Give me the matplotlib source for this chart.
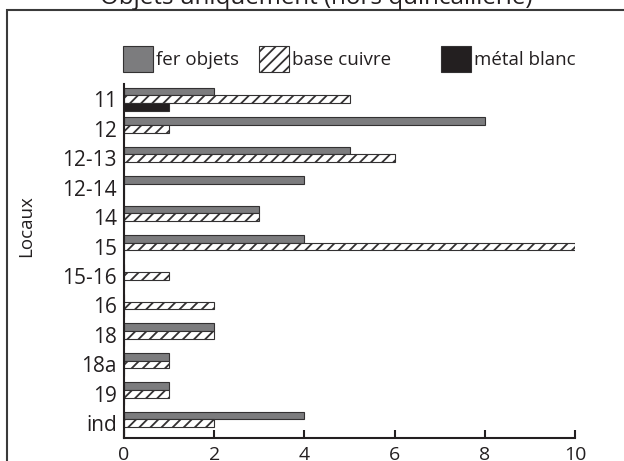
import matplotlib
matplotlib.use('Agg')
import matplotlib.pyplot as plt
import numpy as np
from matplotlib.patches import Rectangle

plt.rcParams['font.family'] = ['Open Sans', 'DejaVu Sans']
plt.rcParams['hatch.linewidth'] = 1.3
plt.rcParams['hatch.color'] = '#231f20'

locaux = ["11", "12", "12-13", "12-14", "14", "15", "15-16", "16", "18", "18a", "19", "ind"]
fer_objets = [2, 8, 5, 4, 3, 4, 0, 0, 2, 1, 1, 4]
base_cuivre = [5, 1, 6, 0, 3, 10, 1, 2, 2, 1, 1, 2]
metal_blanc = [1, 0, 0, 0, 0, 0, 0, 0, 0, 0, 0, 0]

W, H = 624, 461
fig = plt.figure(figsize=(W / 100, H / 100), dpi=100)
ax = fig.add_axes([124 / W, 1 - 438 / H, (575 - 124) / W, (438 - 84.5) / H])

y = np.arange(len(locaux))
h = 0.26
edge = '#333132'
b1 = ax.barh(y - h, fer_objets, height=h, color='#7c7c7e', edgecolor=edge, linewidth=0.8,
             label='fer objets')
b2 = ax.barh(y, base_cuivre, height=h, color='white', edgecolor=edge, linewidth=0.8,
             hatch='///', label='base cuivre')
b3 = ax.barh(y + h, metal_blanc, height=h, color='#231f20', edgecolor=edge, linewidth=0.8,
             label='métal blanc')

ax.set_xlim(0, 10)
ax.set_ylim(len(locaux) - 0.5, -0.5)
ax.set_yticks(y)
ax.set_yticklabels(locaux)
ax.set_xticks([0, 2, 4, 6, 8, 10])

for s in ['top', 'right']:
    ax.spines[s].set_visible(False)
for s in ['left', 'bottom']:
    ax.spines[s].set_linewidth(1.5)
    ax.spines[s].set_color('#231f20')
    ax.spines[s].set_zorder(5)

ax.tick_params(axis='x', direction='in', length=6, width=1.5, color='#231f20',
               labelsize=14, pad=6, labelcolor='#231f20')
ax.tick_params(axis='y', length=0, labelsize=15, pad=5, labelcolor='#231f20')

ax.set_ylabel('Locaux', fontsize=13.5, color='#231f20')
ax.yaxis.set_label_coords(-0.197, 0.6)

# one legend per series so each sits where the original has it
leg_y = 1 - 59 / H
for bar, xpx in zip([b1, b2, b3], [123, 259, 441]):
    fig.legend(handles=[bar], loc='center left', bbox_to_anchor=(xpx / W, leg_y),
               frameon=False, borderpad=0, borderaxespad=0, fontsize=13.5,
               handlelength=1.6, handleheight=1.8, handletextpad=0.15,
               labelcolor='#231f20')

fig.text(316 / W, 1 - 4 / H, 'Objets uniquement (hors quincaillerie)', ha='center',
         va='baseline', fontsize=17.4, color='#231f20')

fig.add_artist(Rectangle((7 / W, -0.2), 1.2, 1 - 10 / H + 0.2, transform=fig.transFigure,
                         fill=False, linewidth=1.5, edgecolor='#3a3a3a'))

fig.savefig('out.png', dpi=100)
